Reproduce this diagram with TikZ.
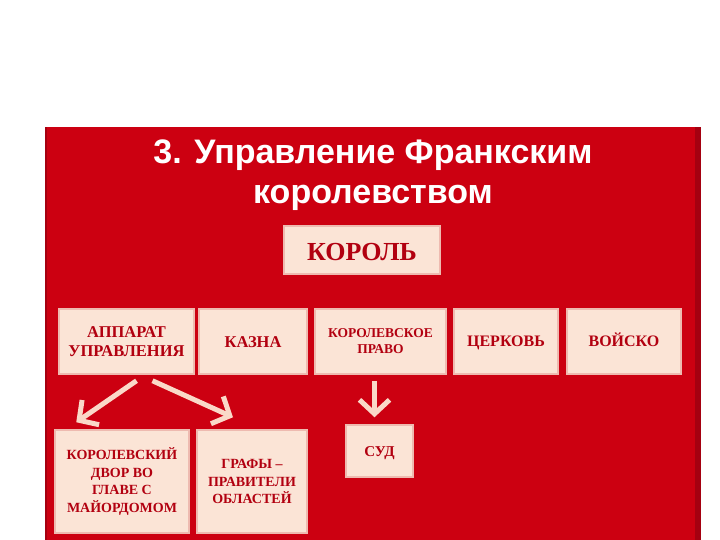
\documentclass[tikz,border=0pt]{standalone}
\usepackage{fontspec}
\setmainfont{Liberation Serif}
\newfontfamily\titlefont{Liberation Sans}
\usetikzlibrary{arrows.meta}

\definecolor{bgred}{RGB}{204,0,17}
\definecolor{edgered}{RGB}{165,0,16}
\definecolor{boxfill}{RGB}{251,228,214}
\definecolor{boxline}{RGB}{238,186,176}
\definecolor{boxtext}{RGB}{178,0,16}
\definecolor{arrowcol}{RGB}{250,217,200}

\begin{document}
\begin{tikzpicture}[x=1pt, y=-1pt,
        box/.style={draw=boxline, line width=1.5pt, fill=boxfill, inner sep=0pt,
            text=boxtext, font=\bfseries, align=center},
        oneline/.style={text height=#1, text depth=0pt},
        arr/.style={draw=arrowcol, line width=5pt,
            -{Straight Barb[length=14pt, width=30pt]}}]
                \useasboundingbox (0, 0) rectangle (720, 540);
                \fill [white] (0, 0) rectangle (720, 540);
                \fill [bgred] (45, 127) rectangle (701, 540);
                \fill [edgered] (45, 127) rectangle (47, 540);
                \fill [edgered] (695, 127) rectangle (701, 540);

                \node [text=white, font=\titlefont\bfseries\fontsize{34}{40}\selectfont,
                    align=center, anchor=base] (title) at (373, 204)
                    {3. Управление Франкским\\королевством};

                \node [box, oneline=21pt, minimum width=156pt, minimum height=48pt,
                    font=\bfseries\fontsize{26}{28}\selectfont] (korol) at (362, 250) {КОРОЛЬ};

                \node [box, minimum width=135pt, minimum height=65pt,
                    font=\bfseries\fontsize{16.5}{19}\selectfont] (app) at (126.5, 341.5) {АППАРАТ\\УПРАВЛЕНИЯ};
                \node [box, oneline=11pt, minimum width=108pt, minimum height=65pt,
                    font=\bfseries\fontsize{16.5}{19}\selectfont] (kazna) at (253, 341.5) {КАЗНА};
                \node [box, minimum width=131pt, minimum height=65pt,
                    font=\bfseries\fontsize{13.5}{16}\selectfont] (pravo) at (380.5, 341.5) {КОРОЛЕВСКОЕ\\ПРАВО};
                \node [box, oneline=10.5pt, minimum width=104pt, minimum height=65pt,
                    font=\bfseries\fontsize{16}{19}\selectfont] (cerkov) at (506, 341.5) {ЦЕРКОВЬ};
                \node [box, oneline=10.5pt, minimum width=114pt, minimum height=65pt,
                    font=\bfseries\fontsize{16}{19}\selectfont] (vojsko) at (624, 341.5) {ВОЙСКО};

                \node [box, minimum width=134pt, minimum height=103pt,
                    font=\bfseries\fontsize{14}{17.5}\selectfont] (dvor) at (122, 481.5)
                    {КОРОЛЕВСКИЙ\\ДВОР ВО\\ГЛАВЕ С\\МАЙОРДОМОМ};
                \node [box, minimum width=110pt, minimum height=103pt,
                    font=\bfseries\fontsize{14}{17.5}\selectfont] (grafy) at (252, 481.5)
                    {ГРАФЫ --\\ПРАВИТЕЛИ\\ОБЛАСТЕЙ};
                \node [box, oneline=10pt, minimum width=67pt, minimum height=52pt,
                    font=\bfseries\fontsize{15}{17}\selectfont] (sud) at (379.5, 451) {СУД};

                \draw [arr] ([shift={(10, 6)}]app.south) -- ([shift={(22, -7)}]dvor.north west);
                \draw [arr] ([shift={(26, 6)}]app.south) -- ([shift={(-19, -12)}]grafy.north);
                \draw [arr] ([shift={(-6, 6)}]pravo.south) -- ([shift={(-5, -7)}]sud.north);
            \end{tikzpicture}
\end{document}
